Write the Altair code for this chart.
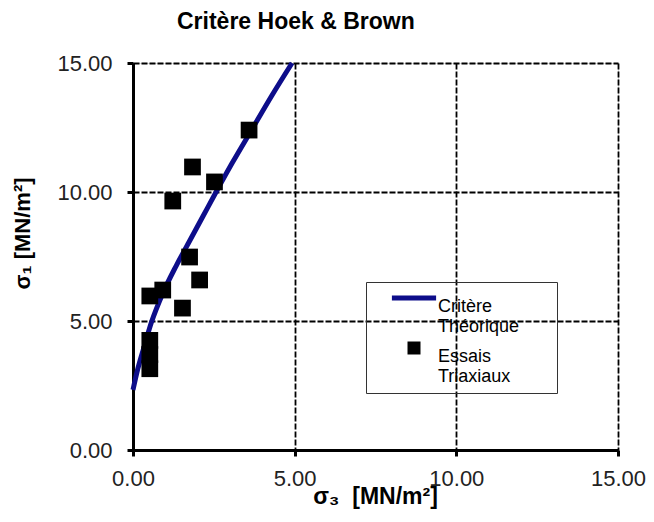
import altair as alt
import pandas as pd

# Hoek & Brown theoretical criterion
sigma3_curve = [0.0, 0.15, 0.32, 0.57, 0.93, 1.34, 1.75, 2.16, 2.57, 3.08, 3.69, 4.30, 4.92]
sigma1_curve = [2.33, 3.15, 3.90, 4.95, 6.10, 7.15, 8.10, 9.05, 10.00, 11.15, 12.45, 13.75, 15.00]

# Triaxial tests
sigma3_tests = [0.52, 0.52, 0.52, 0.52, 0.92, 1.23, 1.53, 1.75, 2.06, 1.84, 2.52, 3.59]
sigma1_tests = [3.15, 3.70, 4.25, 5.97, 6.20, 9.65, 5.50, 7.48, 6.59, 10.97, 10.39, 12.40]

tick_values = [0, 5, 10, 15]
series_names = ["Critère Théorique", "Essais Triaxiaux"]
series_colors = ["#0d0d8a", "#000000"]

curve_df = pd.DataFrame({"s3": sigma3_curve, "s1": sigma1_curve, "serie": series_names[0]})
tests_df = pd.DataFrame({"s3": sigma3_tests, "s1": sigma1_tests, "serie": series_names[1]})

FONT = "Liberation Sans"
LINE_PATH = "M-3.4,-0.38H3.4V0.38H-3.4Z"
NB = "\u00a0"
ZW = "\u200b"

x_scale = alt.Scale(domain=[0, 15], nice=False, zero=False)
y_scale = alt.Scale(domain=[0, 15], nice=False, zero=False)

axis_common = dict(
    values=tick_values, format=".2f", grid=True, gridColor="black", gridDash=[6, 2],
    gridWidth=1.8, domainColor="black", domainWidth=3, tickColor="black", tickWidth=3,
    tickSize=6, labelFont=FONT, labelFontSize=22, labelColor="#222", labelFlush=False,
    labelOverlap=False, titleFont=FONT, titleFontWeight="bold", titleColor="black",
)

x_enc = alt.X("s3:Q", scale=x_scale, axis=alt.Axis(
    title=f"σ₃{NB}{NB}[MN/m²]", labelPadding=12, titleX=242, titleY=53, titleFontSize=23,
    titleAlign="center", titleBaseline="alphabetic", **axis_common))
y_enc = alt.Y("s1:Q", scale=y_scale, axis=alt.Axis(
    title="σ₁ [MN/m²]", labelPadding=15, titleX=-104, titleY=170, titleAngle=270,
    titleFontSize=22, titleAlign="center", titleBaseline="alphabetic", **axis_common))

label_expr = (
    f"datum.value == '{series_names[0]}' ? ['Critère', 'Théorique{NB*6}{ZW}'] "
    f": ['Essais', 'Triaxiaux{NB*6}{ZW}']"
)
legend = alt.Legend(
    title=None, orient="none", legendX=233, legendY=219, direction="vertical",
    strokeColor="#333", padding=7, symbolSize=169, symbolOffset=32, labelOffset=15,
    labelFont=FONT, labelFontSize=18, labelColor="black", labelBaseline="top",
    labelExpr=label_expr, rowPadding=3, labelLimit=300,
)

color_enc = alt.Color("serie:N", scale=alt.Scale(domain=series_names, range=series_colors), legend=legend)
shape_enc = alt.Shape("serie:N", scale=alt.Scale(domain=series_names, range=[LINE_PATH, "square"]), legend=legend)

curve = alt.Chart(curve_df).mark_line(
    color=series_colors[0], strokeWidth=5, interpolate="monotone"
).encode(x=x_enc, y=y_enc)

points = alt.Chart(tests_df).mark_point(
    filled=True, size=280, opacity=1
).encode(x=x_enc, y=y_enc, color=color_enc, shape=shape_enc)

chart = alt.layer(curve, points).properties(
    width=485, height=387,
    autosize=alt.AutoSizeParams(type="none"),
    padding={"left": 125, "top": 55, "right": 28, "bottom": 60},
    title=alt.TitleParams(
        "Critère Hoek & Brown", font=FONT, fontSize=23, fontWeight="bold",
        anchor="start", frame="group", dx=44, offset=18, color="black",
    ),
).configure_view(strokeWidth=0).configure(background="white")

chart.save("out.html", embed_options={"renderer": "svg", "actions": False})
